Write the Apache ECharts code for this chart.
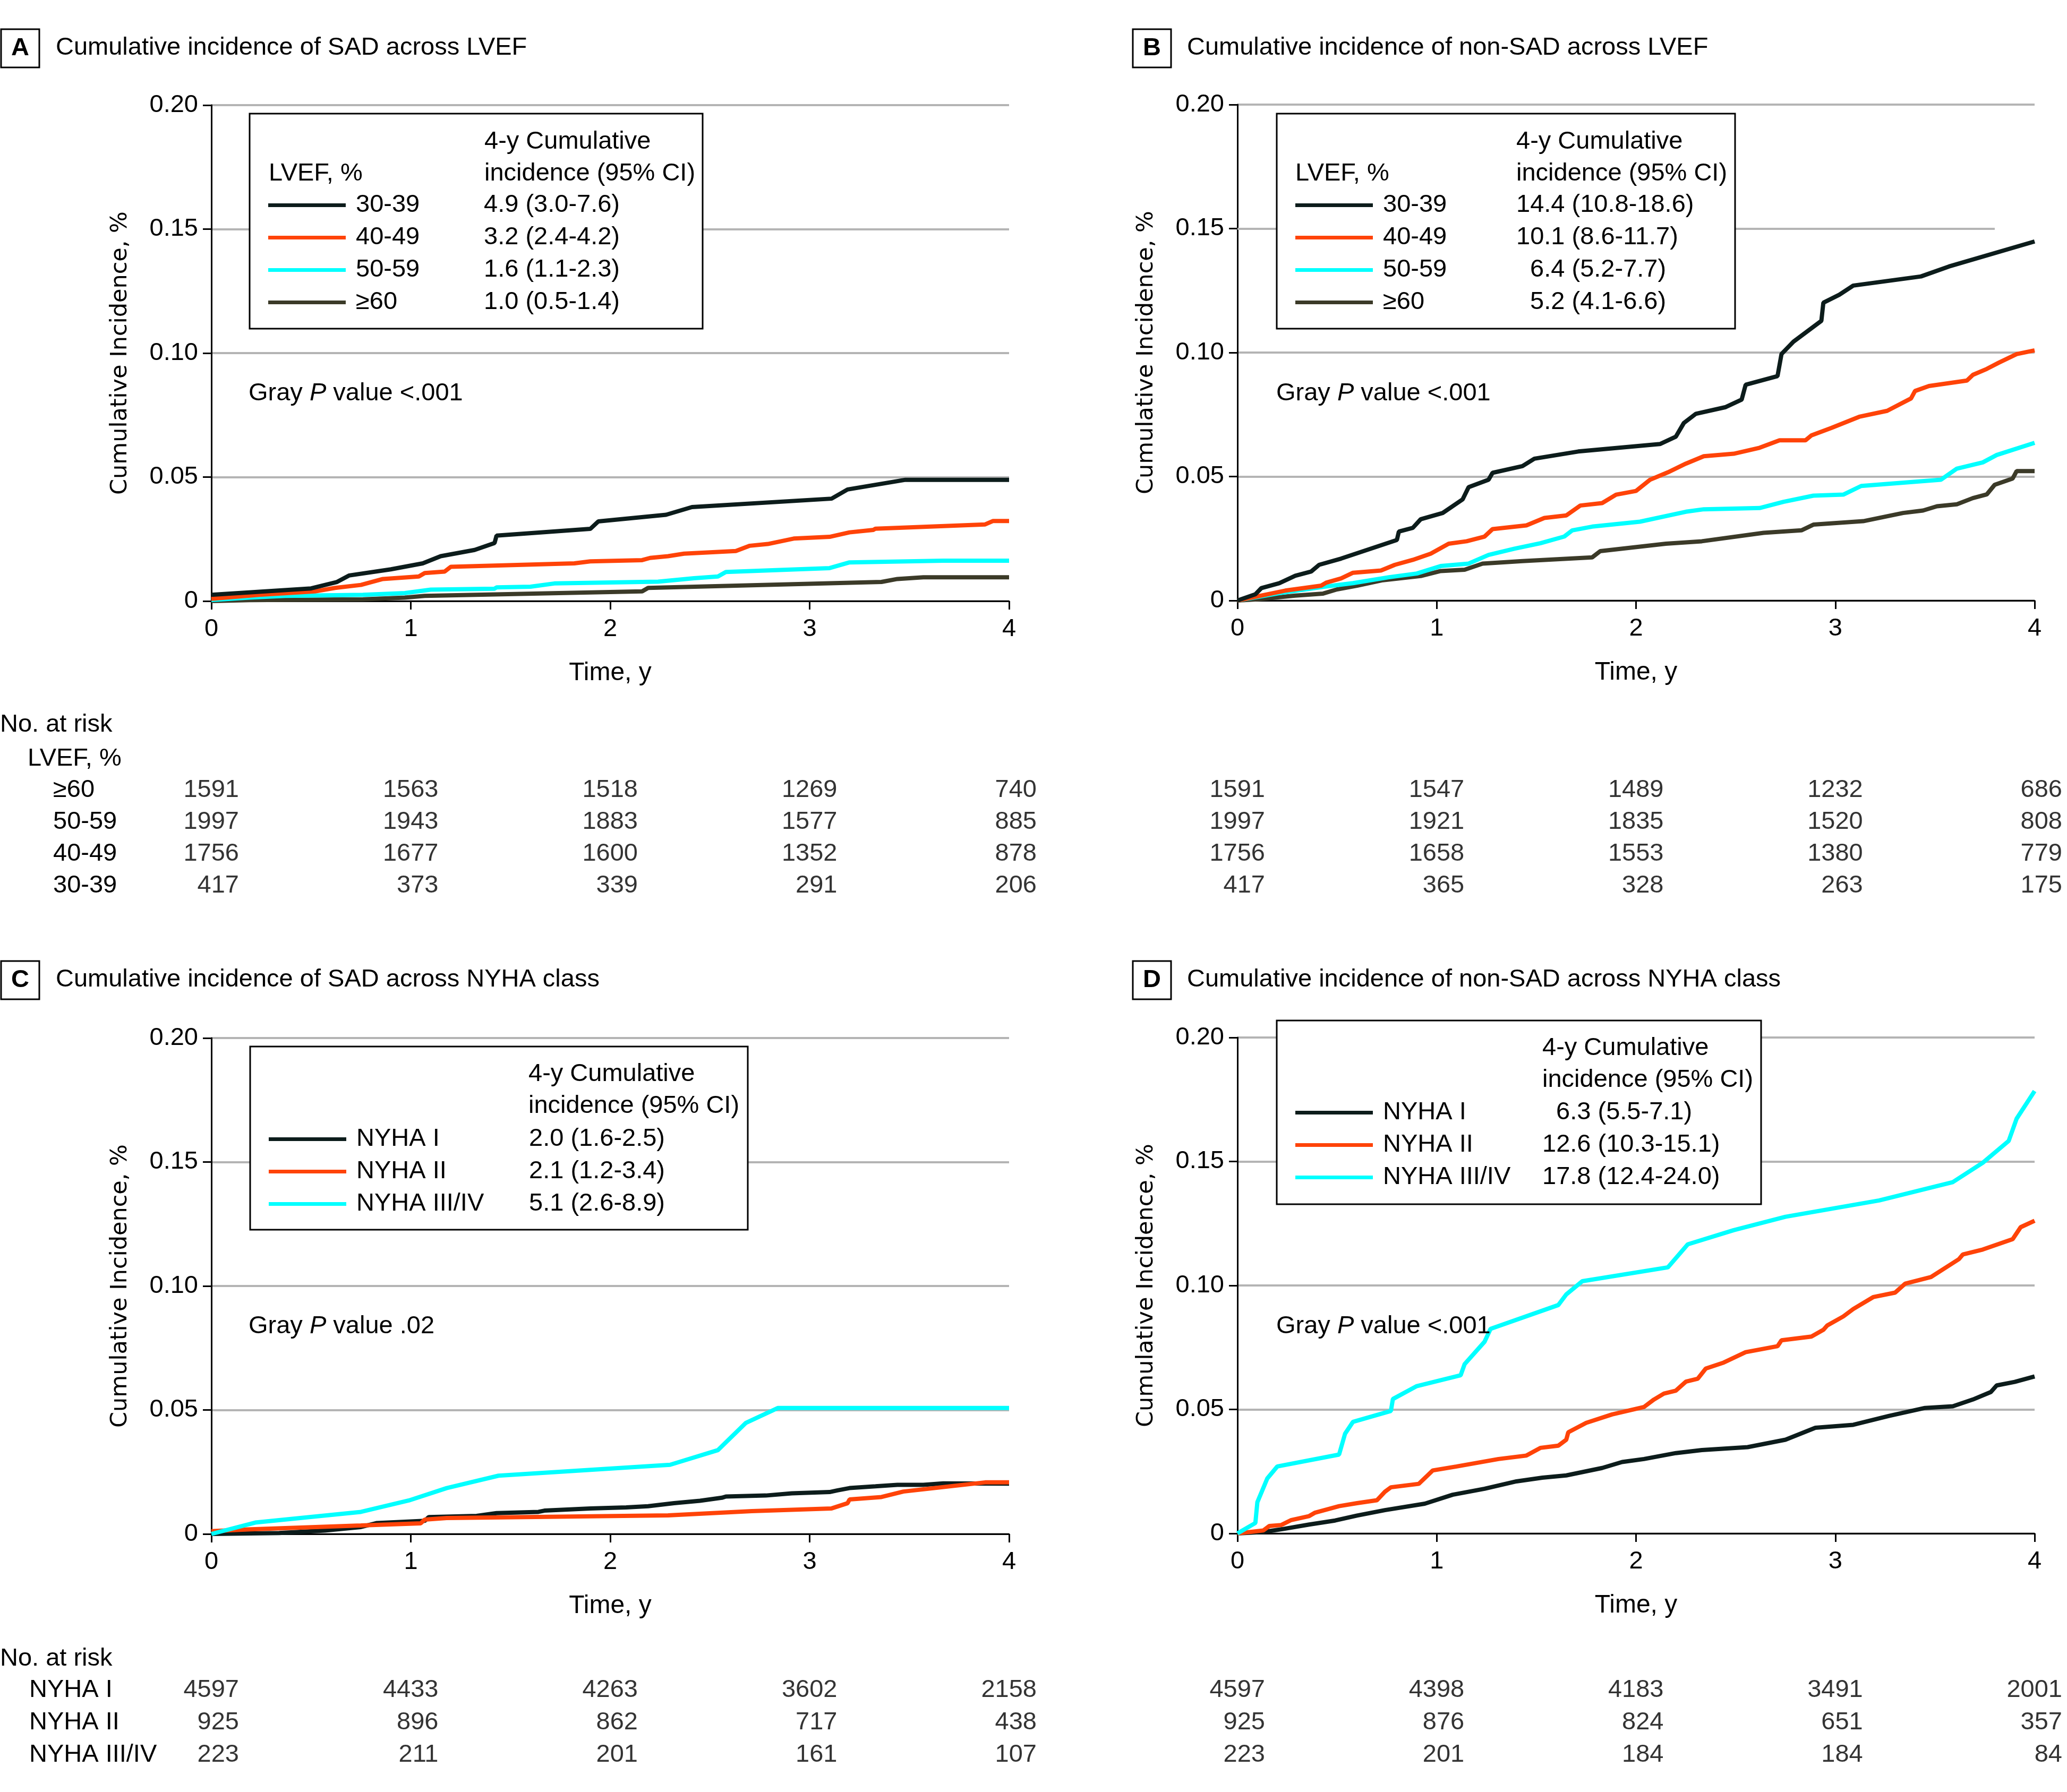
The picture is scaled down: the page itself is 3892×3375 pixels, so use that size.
<!DOCTYPE html>
<html><head><meta charset="utf-8">
<script src="https://cdn.jsdelivr.net/npm/echarts@6/dist/echarts.min.js"></script>
<style>html,body{margin:0;padding:0;background:#fff}#c{width:3892px;height:3375px}</style>
</head><body><div id="c"></div>
<script>
// ---------------- DATA ----------------
const timeTicks = [0, 1, 2, 3, 4];
const panelLetters = ['A', 'B', 'C', 'D'];
const panelTitles = [
  'Cumulative incidence of SAD across LVEF',
  'Cumulative incidence of non-SAD across LVEF',
  'Cumulative incidence of SAD across NYHA class',
  'Cumulative incidence of non-SAD across NYHA class'
];
const pValues = ['<.001', '<.001', '.02', '<.001'];

const lvefGroups = ['30-39', '40-49', '50-59', '≥60'];
const nyhaGroups = ['NYHA I', 'NYHA II', 'NYHA III/IV'];

// 4-y cumulative incidence (95% CI) legend texts
const ciA = ['4.9 (3.0-7.6)', '3.2 (2.4-4.2)', '1.6 (1.1-2.3)', '1.0 (0.5-1.4)'];
const ciB = ['14.4 (10.8-18.6)', '10.1 (8.6-11.7)', '6.4 (5.2-7.7)', '5.2 (4.1-6.6)'];
const ciC = ['2.0 (1.6-2.5)', '2.1 (1.2-3.4)', '5.1 (2.6-8.9)'];
const ciD = ['6.3 (5.5-7.1)', '12.6 (10.3-15.1)', '17.8 (12.4-24.0)'];

// Panel A: SAD across LVEF  [time (y), cumulative incidence]
const A_3039 = [[0,0.0025],[0.5,0.0051],[0.63,0.0077],[0.69,0.0103],[0.90,0.0128],[1.06,0.0152],[1.15,0.0181],[1.32,0.0206],[1.42,0.0234],[1.43,0.0264],[1.90,0.0291],[1.94,0.0321],[2.28,0.0348],[2.41,0.0379],[3.11,0.0413],[3.19,0.0450],[3.48,0.0489],[4.0,0.0489]];
const A_4049 = [[0,0.0009],[0.24,0.0025],[0.52,0.0039],[0.62,0.0053],[0.75,0.0065],[0.86,0.0089],[1.04,0.0099],[1.07,0.0113],[1.17,0.0119],[1.20,0.0138],[1.82,0.0152],[1.90,0.0160],[2.16,0.0165],[2.20,0.0174],[2.29,0.0181],[2.37,0.0191],[2.63,0.0202],[2.70,0.0223],[2.79,0.0230],[2.92,0.0252],[3.10,0.0259],[3.20,0.0277],[3.32,0.0287],[3.33,0.0292],[3.88,0.0309],[3.92,0.0323],[4.0,0.0323]];
const A_5059 = [[0,0.0004],[0.19,0.0014],[0.37,0.0021],[0.76,0.0025],[0.97,0.0032],[1.07,0.0043],[1.10,0.0046],[1.42,0.0050],[1.43,0.0055],[1.60,0.0058],[1.72,0.0071],[2.24,0.0078],[2.42,0.0092],[2.54,0.0099],[2.58,0.0117],[3.10,0.0133],[3.20,0.0156],[3.67,0.0163],[4.0,0.0163]];
const A_ge60 = [[0,0],[0.19,0.0004],[0.76,0.0007],[0.97,0.0014],[1.07,0.0021],[2.16,0.0039],[2.19,0.0053],[3.36,0.0077],[3.44,0.0089],[3.57,0.0096],[4.0,0.0096]];

// Panel B: non-SAD across LVEF
const B_3039 = [[0,0],[0.09,0.0025],[0.12,0.005],[0.21,0.007],[0.29,0.010],[0.37,0.0117],[0.41,0.0144],[0.52,0.0169],[0.80,0.0244],[0.81,0.0278],[0.88,0.0293],[0.92,0.0328],[1.03,0.0353],[1.13,0.0408],[1.16,0.0457],[1.26,0.0487],[1.28,0.0515],[1.43,0.0542],[1.49,0.0572],[1.71,0.0601],[2.12,0.0631],[2.20,0.0661],[2.24,0.0716],[2.30,0.0753],[2.45,0.0780],[2.53,0.0810],[2.55,0.0870],[2.71,0.0905],[2.73,0.0994],[2.79,0.1044],[2.93,0.1128],[2.94,0.1201],[3.02,0.1233],[3.09,0.1270],[3.43,0.1307],[3.57,0.1347],[4.0,0.1448]];
const B_4049 = [[0,0],[0.24,0.0040],[0.42,0.0060],[0.445,0.0072],[0.52,0.0089],[0.58,0.0112],[0.72,0.0121],[0.79,0.0144],[0.88,0.0164],[0.97,0.0189],[1.06,0.0229],[1.15,0.0239],[1.24,0.0258],[1.28,0.0288],[1.45,0.0303],[1.54,0.0333],[1.65,0.0343],[1.72,0.0383],[1.83,0.0393],[1.90,0.0427],[2.00,0.0442],[2.07,0.0487],[2.16,0.0517],[2.25,0.0552],[2.34,0.0582],[2.49,0.0592],[2.62,0.0616],[2.72,0.0646],[2.85,0.0646],[2.88,0.0666],[2.98,0.0696],[3.12,0.0741],[3.26,0.0765],[3.38,0.0815],[3.40,0.0845],[3.47,0.0865],[3.66,0.0887],[3.69,0.0910],[3.76,0.0934],[3.82,0.0959],[3.91,0.0994],[4.0,0.1009]];
const B_5059 = [[0,0],[0.21,0.0030],[0.43,0.0055],[0.58,0.0070],[0.76,0.0094],[0.90,0.0109],[1.02,0.0139],[1.16,0.0149],[1.26,0.0184],[1.39,0.0209],[1.52,0.0231],[1.64,0.0258],[1.68,0.0283],[1.78,0.0298],[2.02,0.0318],[2.25,0.0358],[2.34,0.0368],[2.62,0.0373],[2.74,0.0398],[2.89,0.0423],[3.04,0.0427],[3.13,0.0462],[3.53,0.0487],[3.61,0.0532],[3.74,0.0557],[3.81,0.0587],[4.0,0.0636]];
const B_ge60 = [[0,0],[0.10,0.0005],[0.29,0.0020],[0.43,0.0028],[0.50,0.0045],[0.60,0.0060],[0.73,0.0082],[0.92,0.0099],[1.02,0.0119],[1.14,0.0124],[1.23,0.0149],[1.43,0.0159],[1.78,0.0174],[1.82,0.0199],[2.15,0.0229],[2.33,0.0239],[2.64,0.0273],[2.83,0.0283],[2.89,0.0306],[3.14,0.0320],[3.34,0.0353],[3.44,0.0363],[3.51,0.0380],[3.61,0.0388],[3.69,0.0413],[3.76,0.0428],[3.80,0.0467],[3.89,0.0492],[3.91,0.0522],[4.0,0.0522]];

// Panel C: SAD across NYHA class
const C_1 = [[0,0],[0.34,0.0004],[0.57,0.0014],[0.75,0.0028],[0.83,0.0044],[1.07,0.0053],[1.09,0.0068],[1.33,0.0073],[1.43,0.0084],[1.64,0.0089],[1.67,0.0094],[1.90,0.0103],[2.08,0.0107],[2.19,0.0112],[2.32,0.0124],[2.45,0.0134],[2.56,0.0146],[2.58,0.0151],[2.78,0.0155],[2.91,0.0164],[3.10,0.0169],[3.14,0.0176],[3.20,0.0185],[3.33,0.0192],[3.44,0.0198],[3.57,0.0198],[3.67,0.0204],[4.0,0.0203]];
const C_2 = [[0,0.0011],[0.18,0.0018],[0.75,0.0034],[1.05,0.0043],[1.07,0.0058],[1.18,0.0064],[2.29,0.0075],[2.71,0.0092],[3.11,0.0103],[3.19,0.0124],[3.20,0.0139],[3.36,0.0149],[3.47,0.0171],[3.88,0.0208],[4.0,0.0208]];
const C_34 = [[0,0],[0.22,0.0046],[0.75,0.0089],[0.99,0.0135],[1.18,0.0185],[1.44,0.0235],[2.30,0.0279],[2.54,0.0338],[2.68,0.0448],[2.84,0.0508],[4.0,0.0508]];

// Panel D: non-SAD across NYHA class
const D_1 = [[0,0],[0.13,0.0006],[0.23,0.0018],[0.36,0.0036],[0.49,0.0052],[0.60,0.0072],[0.74,0.0094],[0.94,0.0120],[1.08,0.0156],[1.24,0.0180],[1.40,0.0210],[1.53,0.0225],[1.65,0.0234],[1.83,0.0264],[1.93,0.0288],[2.04,0.0300],[2.20,0.0324],[2.33,0.0336],[2.56,0.0348],[2.75,0.0378],[2.90,0.0426],[3.09,0.0438],[3.27,0.0474],[3.45,0.0506],[3.59,0.0513],[3.69,0.0540],[3.78,0.0570],[3.81,0.0597],[3.90,0.0611],[4.0,0.0633]];
const D_2 = [[0,0],[0.13,0.0012],[0.16,0.0030],[0.22,0.0034],[0.27,0.0054],[0.36,0.0070],[0.39,0.0084],[0.51,0.0110],[0.60,0.0122],[0.70,0.0134],[0.74,0.0168],[0.77,0.0186],[0.91,0.0200],[0.98,0.0254],[1.10,0.0270],[1.31,0.0300],[1.45,0.0314],[1.52,0.0345],[1.61,0.0354],[1.65,0.0378],[1.66,0.0408],[1.75,0.0446],[1.88,0.0480],[2.04,0.0510],[2.09,0.0540],[2.14,0.0564],[2.20,0.0576],[2.25,0.0612],[2.31,0.0624],[2.35,0.0665],[2.44,0.0689],[2.55,0.0731],[2.71,0.0755],[2.73,0.0779],[2.88,0.0794],[2.94,0.0821],[2.96,0.0839],[3.04,0.0875],[3.09,0.0905],[3.19,0.0953],[3.30,0.0971],[3.35,0.1007],[3.48,0.1034],[3.62,0.1106],[3.64,0.1125],[3.74,0.1145],[3.89,0.1187],[3.93,0.1235],[4.0,0.1261]];
const D_34 = [[0,0],[0.09,0.0042],[0.10,0.0126],[0.15,0.0222],[0.20,0.0270],[0.51,0.0318],[0.54,0.0402],[0.58,0.0450],[0.77,0.0494],[0.78,0.0542],[0.90,0.0594],[1.12,0.0638],[1.14,0.0683],[1.24,0.0773],[1.27,0.0825],[1.61,0.0921],[1.65,0.0964],[1.73,0.1017],[2.16,0.1073],[2.26,0.1166],[2.49,0.1223],[2.75,0.1277],[3.22,0.1343],[3.59,0.1417],[3.74,0.1495],[3.87,0.1583],[3.91,0.1673],[4.0,0.1784]];

// Numbers at risk (columns = timeTicks)
const riskLvefRows = ['≥60', '50-59', '40-49', '30-39'];
const riskA_ge60 = [1591, 1563, 1518, 1269, 740];
const riskA_5059 = [1997, 1943, 1883, 1577, 885];
const riskA_4049 = [1756, 1677, 1600, 1352, 878];
const riskA_3039 = [417, 373, 339, 291, 206];
const riskB_ge60 = [1591, 1547, 1489, 1232, 686];
const riskB_5059 = [1997, 1921, 1835, 1520, 808];
const riskB_4049 = [1756, 1658, 1553, 1380, 779];
const riskB_3039 = [417, 365, 328, 263, 175];
const riskNyhaRows = ['NYHA I', 'NYHA II', 'NYHA III/IV'];
const riskC_1 = [4597, 4433, 4263, 3602, 2158];
const riskC_2 = [925, 896, 862, 717, 438];
const riskC_34 = [223, 211, 201, 161, 107];
const riskD_1 = [4597, 4398, 4183, 3491, 2001];
const riskD_2 = [925, 876, 824, 651, 357];
const riskD_34 = [223, 201, 184, 184, 84];

// ---------------- STYLE / LAYOUT ----------------
const FONT = "'Liberation Sans', Arial, sans-serif";
const FS = 47;
const COLORS = {
  '30-39': '#0c1c1b', '40-49': '#ff4308', '50-59': '#00ffff', '≥60': '#3b3a28',
  'NYHA I': '#0c1c1b', 'NYHA II': '#ff4308', 'NYHA III/IV': '#00ffff'
};
const GRID_COLOR = '#b4b4b4';

const plotGrids = [
  { left: 398, top: 198, width: 1502, height: 934 },
  { left: 2330, top: 197, width: 1501, height: 934 },
  { left: 398, top: 1955, width: 1502, height: 934 },
  { left: 2330, top: 1954, width: 1501, height: 934 }
];
const riskGrids = [
  { left: 398, top: 1458, width: 1502, height: 240 },
  { left: 2330, top: 1458, width: 1501, height: 240 },
  { left: 398, top: 3153, width: 1502, height: 183 },
  { left: 2330, top: 3153, width: 1501, height: 183 }
];

const xAxes = [], yAxes = [];
for (let i = 0; i < 4; i++) {
  xAxes.push({
    gridIndex: i, type: 'value', min: 0, max: 4, interval: 1,
    name: 'Time, y', nameLocation: 'middle', nameGap: 112,
    nameTextStyle: { fontFamily: FONT, fontSize: 48, color: '#000' },
    axisLine: { show: true, onZero: false, lineStyle: { color: '#000', width: 3 } },
    axisTick: { show: true, length: 16, lineStyle: { color: '#000', width: 3 } },
    axisLabel: { fontFamily: FONT, fontSize: FS, color: '#000', margin: 30 },
    splitLine: { show: false }
  });
  yAxes.push({
    gridIndex: i, type: 'value', min: 0, max: 0.2, interval: 0.05,
    name: 'Cumulative Incidence, %', nameLocation: 'middle', nameGap: 150,
    nameTextStyle: { fontFamily: "'DejaVu Sans', sans-serif", fontSize: 43, color: '#000' },
    axisLine: { show: true, lineStyle: { color: '#000', width: 3 } },
    axisTick: { show: true, length: 16, lineStyle: { color: '#000', width: 3 } },
    axisLabel: { fontFamily: FONT, fontSize: FS, color: '#000', margin: 25,
      formatter: v => (v === 0 ? '0' : v.toFixed(2)) },
    splitLine: { show: true, lineStyle: {
      color: i === 1 ? [GRID_COLOR, GRID_COLOR, GRID_COLOR, 'rgba(0,0,0,0)', GRID_COLOR] : GRID_COLOR,
      width: 4 } }
  });
}
for (let i = 0; i < 4; i++) {
  xAxes.push({ gridIndex: 4 + i, type: 'value', min: 0, max: 4, show: false });
  yAxes.push({
    gridIndex: 4 + i, type: 'category', inverse: true,
    data: i < 2 ? riskLvefRows : riskNyhaRows,
    axisLine: { show: false }, axisTick: { show: false }, splitLine: { show: false },
    axisLabel: { show: i % 2 === 0, interval: 0, align: 'left', margin: i === 0 ? 298 : 343,
      fontFamily: FONT, fontSize: FS, color: '#000' }
  });
}

function curve(name, data, idx, extra) {
  return Object.assign({
    name, type: 'line', data, xAxisIndex: idx, yAxisIndex: idx,
    showSymbol: false, symbol: 'none', silent: true,
    lineStyle: { color: COLORS[name], width: 8 },
    itemStyle: { color: COLORS[name] }, z: 3
  }, extra || {});
}
function riskSeries(rows, counts, idx) {
  const data = [];
  rows.forEach((r, i) => timeTicks.forEach((t, j) => data.push([t, r, counts[i][j]])));
  return {
    name: 'risk' + idx, type: 'scatter', xAxisIndex: idx, yAxisIndex: idx,
    data, symbolSize: 1, itemStyle: { color: 'rgba(0,0,0,0)' }, silent: true,
    label: { show: true, position: 'inside', align: 'right', verticalAlign: 'middle',
      offset: [52, 0], fontFamily: FONT, fontSize: FS, color: '#000',
      formatter: p => String(p.value[2]) }
  };
}

const series = [
  curve('≥60', A_ge60, 0), curve('50-59', A_5059, 0), curve('40-49', A_4049, 0), curve('30-39', A_3039, 0),
  curve('≥60', B_ge60, 1, {
    markLine: { silent: true, symbol: ['none', 'none'], label: { show: false }, animation: false, z: 1,
      lineStyle: { color: GRID_COLOR, width: 4, type: 'solid' },
      data: [[{ coord: [0, 0.15] }, { coord: [3.8, 0.15] }]] }
  }),
  curve('50-59', B_5059, 1), curve('40-49', B_4049, 1), curve('30-39', B_3039, 1),
  curve('NYHA I', C_1, 2), curve('NYHA II', C_2, 2), curve('NYHA III/IV', C_34, 2),
  curve('NYHA I', D_1, 3), curve('NYHA II', D_2, 3), curve('NYHA III/IV', D_34, 3),
  riskSeries(riskLvefRows, [riskA_ge60, riskA_5059, riskA_4049, riskA_3039], 4),
  riskSeries(riskLvefRows, [riskB_ge60, riskB_5059, riskB_4049, riskB_3039], 5),
  riskSeries(riskNyhaRows, [riskC_1, riskC_2, riskC_34], 6),
  riskSeries(riskNyhaRows, [riskD_1, riskD_2, riskD_34], 7)
];

function makeLegend(names, cis, left, top, pad, nameW) {
  const maxInt = Math.max(...cis.map(c => c.split('.')[0].length));
  const map = {};
  names.forEach((n, i) => {
    const c = cis[i];
    map[n] = '  '.repeat(maxInt - c.split('.')[0].length) + c;
  });
  return {
    z: 20,
    orient: 'vertical', left, top, padding: pad, itemGap: 14,
    itemWidth: 146, itemHeight: 7, icon: 'rect', selectedMode: false,
    backgroundColor: '#fff', borderColor: '#000', borderWidth: 3, borderRadius: 0,
    data: names,
    formatter: n => `{s| }{n|${n}}{v|${map[n]}}`,
    textStyle: {
      fontFamily: FONT, fontSize: FS, color: '#000',
      rich: {
        s: { width: 14, fontSize: FS, lineHeight: 50, fontFamily: FONT },
        n: { width: nameW, fontSize: FS, lineHeight: 50, fontFamily: FONT, color: '#000' },
        v: { width: 402, fontSize: FS, lineHeight: 50, fontFamily: FONT, color: '#000' }
      }
    }
  };
}
const legends = [
  makeLegend(lvefGroups, ciA, 470, 214, [149, 10, 26, 35], 241),
  makeLegend(lvefGroups, ciB, 2404, 214, [149, 10, 26, 35], 251),
  makeLegend(nyhaGroups, ciC, 471, 1971, [151, 10, 25, 35], 325),
  makeLegend(nyhaGroups, ciD, 2404, 1922, [150, 10, 27, 35], 300)
];

function T(x, y, text, extra) {
  return {
    type: 'text', z: 100,
    style: Object.assign({ x, y, text, fill: '#000', fontFamily: FONT, fontSize: FS,
      align: 'left', verticalAlign: 'middle' }, extra || {})
  };
}
const graphics = [];
const titlePos = [[2, 55, 105], [2133, 55, 2235], [2, 1810, 105], [2133, 1810, 2235]];
titlePos.forEach((p, i) => {
  graphics.push({ type: 'rect', z: 100, shape: { x: p[0], y: p[1], width: 72, height: 72 },
    style: { fill: '#fff', stroke: '#000', lineWidth: 3 } });
  graphics.push(T(p[0] + 36, p[1] + 36, panelLetters[i], { align: 'center', fontWeight: 'bold' }));
  graphics.push(T(p[2], p[1] + 35, panelTitles[i]));
});
// legend headers
graphics.push(T(506, 327, 'LVEF, %'), T(912, 267, '4-y Cumulative'), T(912, 327, 'incidence (95% CI)'));
graphics.push(T(2439, 327, 'LVEF, %'), T(2855, 267, '4-y Cumulative'), T(2855, 327, 'incidence (95% CI)'));
graphics.push(T(995, 2023, '4-y Cumulative'), T(995, 2083, 'incidence (95% CI)'));
graphics.push(T(2904, 1974, '4-y Cumulative'), T(2904, 2034, 'incidence (95% CI)'));
// Gray P value annotations
const pPos = [[468, 741], [2403, 741], [468, 2498], [2403, 2498]];
pPos.forEach((p, i) => {
  graphics.push(T(p[0], p[1], `{a|Gray }{b|P}{a| value ${pValues[i]}}`, {
    rich: { a: { fontFamily: FONT, fontSize: FS, fill: '#000' },
            b: { fontFamily: FONT, fontSize: FS, fontStyle: 'italic', fill: '#000' } } }));
});
// at-risk headings
graphics.push(T(0, 1365, 'No. at risk'), T(52, 1429, 'LVEF, %'), T(0, 3124, 'No. at risk'));

const option = {
  backgroundColor: '#fff',
  animation: false,
  grid: plotGrids.concat(riskGrids),
  xAxis: xAxes,
  yAxis: yAxes,
  legend: legends,
  series,
  graphic: { elements: graphics }
};

const chart = echarts.init(document.getElementById('c'), null, { renderer: 'canvas', width: 3892, height: 3375 });
chart.setOption(option);
</script></body></html>
